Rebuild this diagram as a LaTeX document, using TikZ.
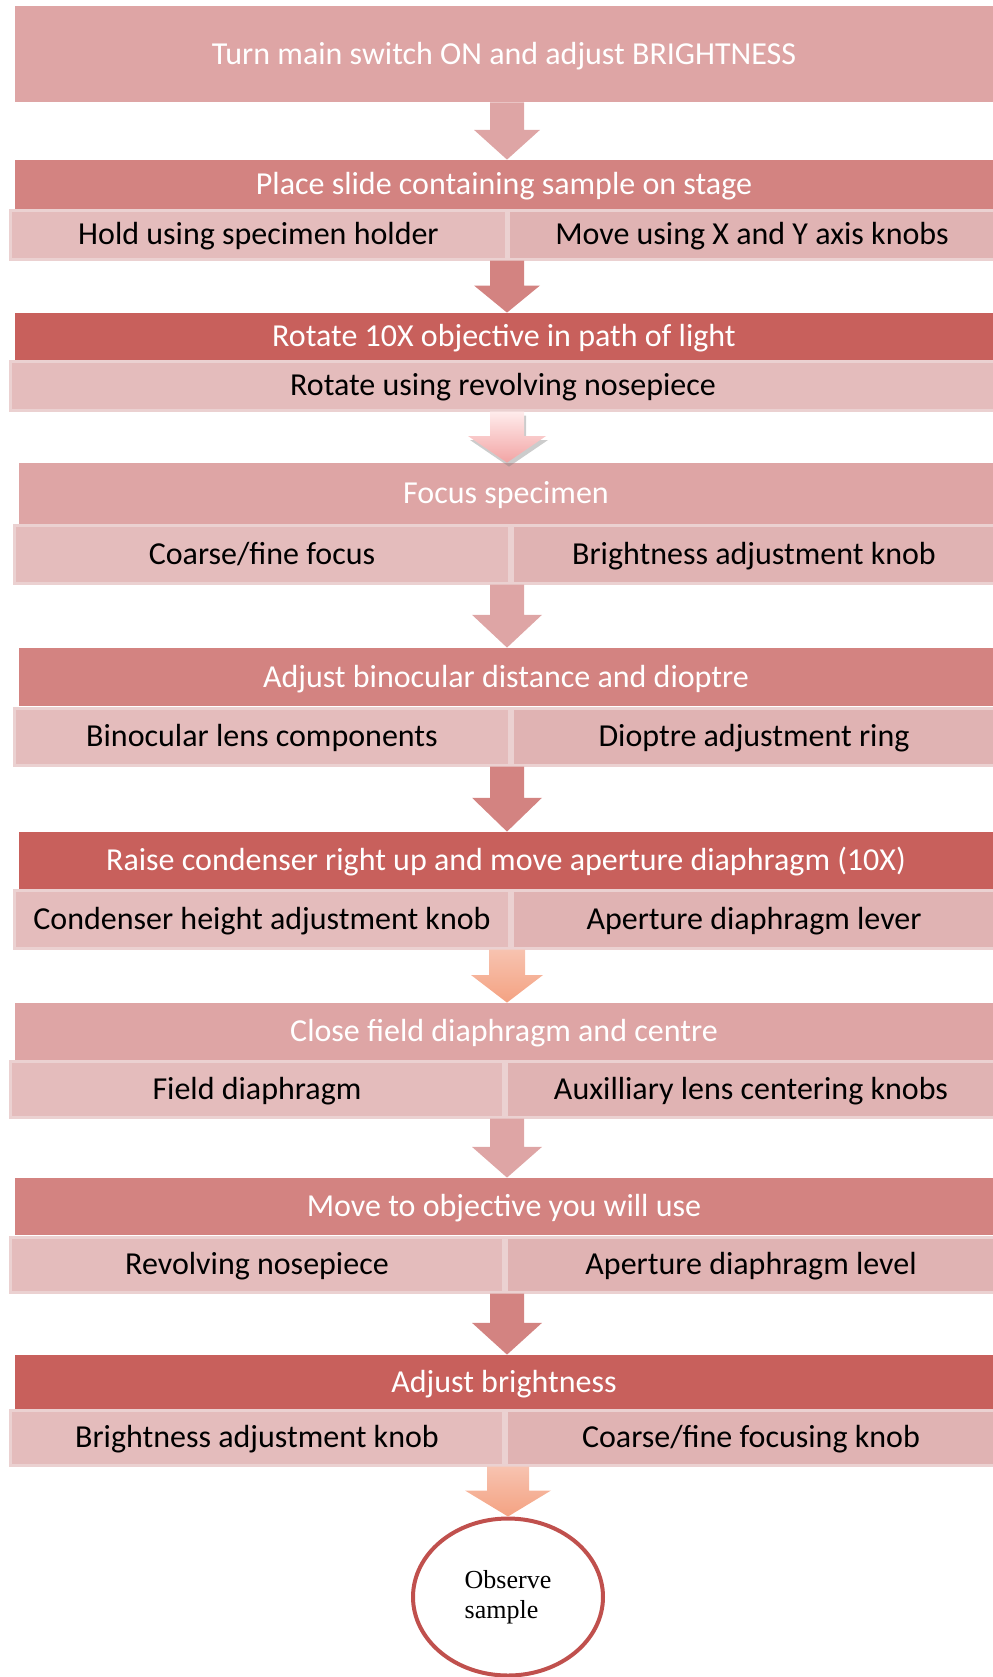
\documentclass[tikz,border=0pt]{standalone}
\usepackage{fontspec}
\setmainfont{Carlito}
\newfontfamily\serifobs{Liberation Serif}
\usetikzlibrary{calc,shadows,shapes.geometric}
\definecolor{clight}{HTML}{DEA5A5}
\definecolor{cmed}{HTML}{D38381}
\definecolor{cdark}{HTML}{C8605C}
\definecolor{subL}{HTML}{E4BCBC}
\definecolor{subR}{HTML}{E0B3B3}
\definecolor{subB}{HTML}{EBD1D1}
\definecolor{ellc}{HTML}{C0504D}
\definecolor{HTMLpinkb}{HTML}{F2A4A4}
\definecolor{HTMLora}{HTML}{F7C3B0}
\definecolor{HTMLorb}{HTML}{F4A282}
\tikzset{
  boxbase/.style={rectangle, inner sep=0pt, anchor=center, text height=12pt, text depth=2pt, font=\fontsize{16}{19}\selectfont},
  hdrlight/.style={boxbase, fill=clight, text=white},
  hdrmed/.style={boxbase, fill=cmed, text=white},
  hdrdark/.style={boxbase, fill=cdark, text=white},
  subleft/.style={boxbase, fill=subL, draw=subB, line width=1.5pt, text=black},
  subright/.style={boxbase, fill=subR, draw=subB, line width=1.5pt, text=black},
  arrlight/.style={fill=clight},
  arrmed/.style={fill=cmed},
  arrpink/.style={top color=white!70!pink, bottom color=HTMLpinkb, drop shadow={opacity=0.4, shadow xshift=1pt, shadow yshift=-2pt}},
  arrorange/.style={top color=HTMLora, bottom color=HTMLorb},
}
\newcommand\boxnode[7]{%
  \node[#6, minimum width={(#4-#2)*0.5pt}, minimum height={(#5-#3)*0.5pt}] (#1) at ({(#2+#4)/2+1.5},{(#3+#5)/2}) {#7};}
\newcommand\blockarr[5]{% from, to, style, shaft half, head half
  \coordinate (tA) at (#1.south -| ax);
  \coordinate (tB) at (#2.north -| ax);
  \coordinate (tM) at ($(tA)!0.48!(tB)$);
  \path[#3] ($(tA)+(-#4,0)$) -- ($(tM)+(-#4,0)$) -- ($(tM)+(-#5,0)$) -- (tB) -- ($(tM)+(#5,0)$) -- ($(tM)+(#4,0)$) -- ($(tA)+(#4,0)$) -- cycle;}
\begin{document}
\begin{tikzpicture}[x=0.5pt,y=-0.5pt]
\useasboundingbox (0,0) rectangle (992,1677);
\coordinate (ax) at (507,0);
% step 1
\boxnode{b1}{13}{6}{992}{102}{hdrlight}{Turn main switch ON and adjust BRIGHTNESS}
% step 2
\boxnode{h2}{13}{160}{992}{209}{hdrmed}{Place slide containing sample on stage}
\boxnode{s2l}{9}{210}{505}{259}{subleft}{Hold using specimen holder}
\boxnode{s2r}{507}{210}{994}{259}{subright}{Move using X and Y axis knobs}
% step 3
\boxnode{h3}{13}{313}{992}{360}{hdrdark}{Rotate 10X objective in path of light}
\boxnode{s3}{9}{361}{994}{410}{subleft}{Rotate using revolving nosepiece}
% step 4
\boxnode{h4}{17}{463}{992}{524}{hdrlight}{Focus specimen}
\boxnode{s4l}{13}{525}{508}{583}{subleft}{Coarse/fine focus}
\boxnode{s4r}{511}{525}{994}{583}{subright}{Brightness adjustment knob}
% step 5
\boxnode{h5}{17}{648}{992}{706}{hdrmed}{Adjust binocular distance and dioptre}
\boxnode{s5l}{13}{708}{508}{765}{subleft}{Binocular lens components}
\boxnode{s5r}{511}{708}{994}{765}{subright}{Dioptre adjustment ring}
% step 6
\boxnode{h6}{17}{832}{992}{889}{hdrdark}{Raise condenser right up and move aperture diaphragm (10X)}
\boxnode{s6l}{13}{890}{508}{948}{subleft}{Condenser height adjustment knob}
\boxnode{s6r}{511}{890}{994}{948}{subright}{Aperture diaphragm lever}
% step 7
\boxnode{h7}{13}{1003}{992}{1060}{hdrlight}{Close field diaphragm and centre}
\boxnode{s7l}{9}{1061}{502}{1117}{subleft}{Field diaphragm}
\boxnode{s7r}{505}{1061}{994}{1117}{subright}{Auxilliary lens centering knobs}
% step 8
\boxnode{h8}{13}{1178}{992}{1235}{hdrmed}{Move to objective you will use}
\boxnode{s8l}{9}{1237}{502}{1292}{subleft}{Revolving nosepiece}
\boxnode{s8r}{505}{1237}{994}{1292}{subright}{Aperture diaphragm level}
% step 9
\boxnode{h9}{13}{1355}{992}{1409}{hdrdark}{Adjust brightness}
\boxnode{s9l}{9}{1410}{502}{1465}{subleft}{Brightness adjustment knob}
\boxnode{s9r}{505}{1410}{994}{1465}{subright}{Coarse/fine focusing knob}
% final
\node[ellipse, draw=ellc, line width=2pt, fill=white, minimum width=95pt, minimum height=78.5pt, inner sep=0pt,
      font=\serifobs\fontsize{13}{15}\selectfont, align=left] (obs) at (508,1597) {Observe\\sample};
% arrows
\blockarr{b1}{h2}{arrlight}{17}{33}
\blockarr{s2l}{h3}{arrmed}{17}{33}
\blockarr{s3}{h4}{arrpink}{17}{39}
\blockarr{s4l}{h5}{arrlight}{17}{35}
\blockarr{s5l}{h6}{arrmed}{17}{35}
\blockarr{s6l}{h7}{arrorange}{18}{36}
\blockarr{s7l}{h8}{arrlight}{17}{35}
\blockarr{s8l}{h9}{arrmed}{17}{35}
\coordinate (ax) at (508,0);
\blockarr{s9l}{obs}{arrorange}{21}{43}
\end{tikzpicture}
\end{document}
